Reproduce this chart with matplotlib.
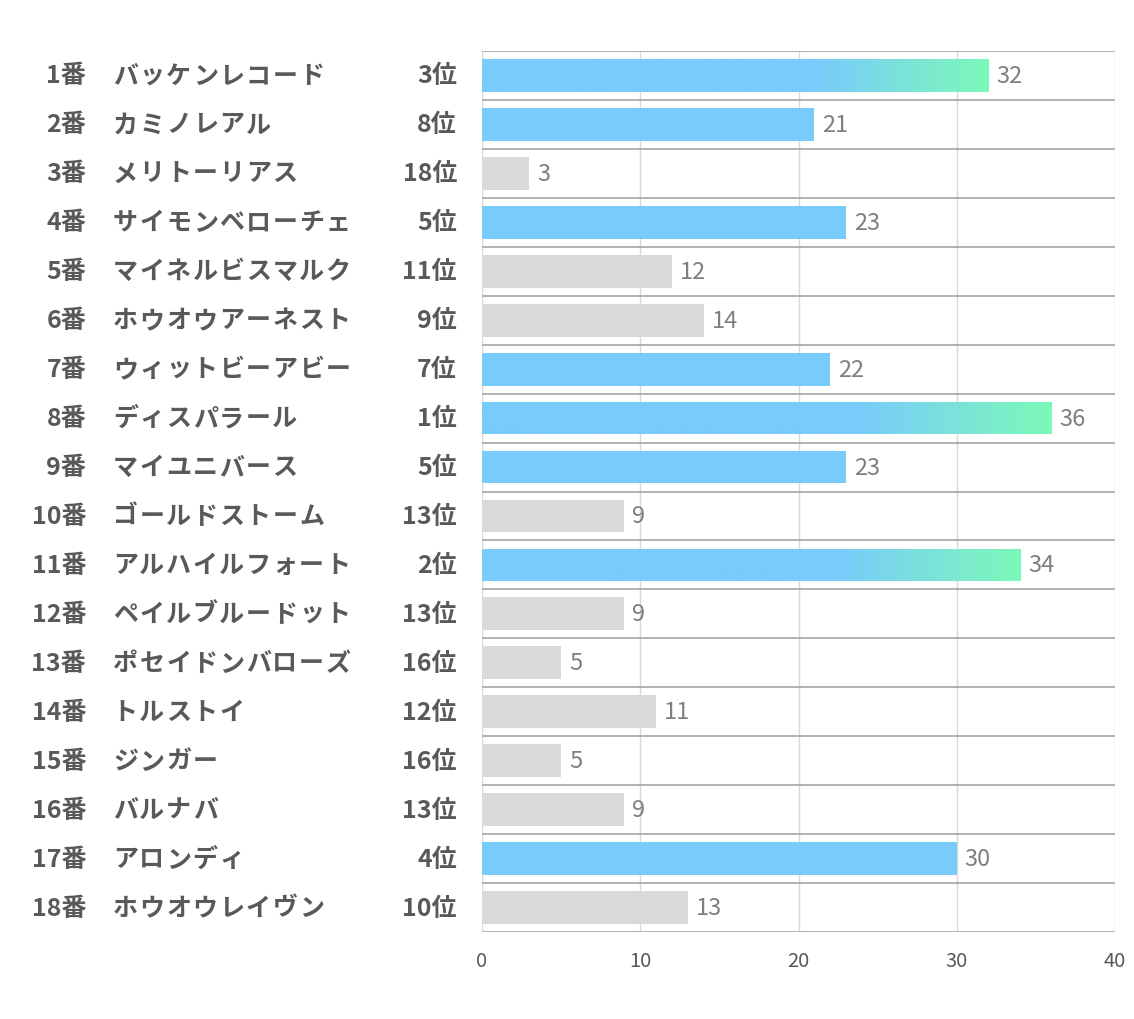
import numpy as np
import matplotlib.pyplot as plt
from matplotlib.colors import LinearSegmentedColormap

plt.rcParams['font.family'] = ['Noto Sans CJK JP', 'DejaVu Sans']

# data
numbers = ['1番', '2番', '3番', '4番', '5番', '6番', '7番', '8番', '9番',
           '10番', '11番', '12番', '13番', '14番', '15番', '16番', '17番', '18番']
names = ['バッケンレコード', 'カミノレアル', 'メリトーリアス', 'サイモンベローチェ',
         'マイネルビスマルク', 'ホウオウアーネスト', 'ウィットビーアビー', 'ディスパラール',
         'マイユニバース', 'ゴールドストーム', 'アルハイルフォート', 'ペイルブルードット',
         'ポセイドンバローズ', 'トルストイ', 'ジンガー', 'バルナバ', 'アロンディ',
         'ホウオウレイヴン']
ranks = ['3位', '8位', '18位', '5位', '11位', '9位', '7位', '1位', '5位',
         '13位', '2位', '13位', '16位', '12位', '16位', '13位', '4位', '10位']
scores = [32, 21, 3, 23, 12, 14, 22, 36, 23, 9, 34, 9, 5, 11, 5, 9, 30, 13]

BLUE = '#79CBFC'
GREEN = '#7CF9B8'
GRAY = '#D9D9D9'
TEXT = '#595959'

W, H = 1134, 1020
fig = plt.figure(figsize=(W / 100, H / 100), dpi=100)
ax = fig.add_axes([482 / W, 1 - 933 / H, (1115 - 482) / W, (933 - 52) / H])

n = len(scores)
y = np.arange(n)
bar_h = 0.67

# top 3 get a blue->green gradient, ranks 4-8 blue, the rest gray
top3 = sorted(range(n), key=lambda i: -scores[i])[:3]
cmap = LinearSegmentedColormap.from_list('g', [(0, BLUE), (0.66, BLUE), (1, GREEN)])
grad = np.linspace(0, 1, 256).reshape(1, -1)

for i in range(n):
    v = scores[i]
    if i in top3:
        rect = ax.barh(y[i], v, height=bar_h, color='none', zorder=2)[0]
        im = ax.imshow(grad, cmap=cmap, aspect='auto', zorder=2,
                       extent=[0, v, y[i] + bar_h / 2, y[i] - bar_h / 2])
        im.set_clip_path(rect)
    else:
        col = BLUE if ranks[i] in ('4位', '5位', '6位', '7位', '8位') else GRAY
        ax.barh(y[i], v, height=bar_h, color=col, zorder=2)
    ax.text(v + 0.5, y[i], str(v), va='center', ha='left', fontsize=17,
            color='#7F7F7F', zorder=3)

ax.set_xlim(0, 40)
ax.set_ylim(n - 0.5, -0.5)
ax.set_xticks([0, 10, 20, 30, 40])
ax.tick_params(axis='x', length=0, pad=13, labelsize=14.5, labelcolor=TEXT)
ax.set_yticks([])
for xv in [0, 10, 20, 30, 40]:
    ax.axvline(xv, color='#D9D9D9', lw=1, zorder=1)
for k in range(n + 1):
    ax.axhline(k - 0.5, color='#A6A6A6', lw=1.2, zorder=1)
for s in ax.spines.values():
    s.set_visible(False)

# left side labels
step = 26.6
for i in range(n):
    yy = 1 - (52 + (i + 0.5) * (933 - 52) / n) / H
    fig.text(86 / W, yy, numbers[i], ha='right', va='center', fontsize=18,
             fontweight='bold', color=TEXT)
    for k, ch in enumerate(names[i]):
        fig.text((112 + step * (k + 0.5)) / W, yy, ch, ha='center', va='center',
                 fontsize=18, fontweight='bold', color=TEXT)
    fig.text(457 / W, yy, ranks[i], ha='right', va='center', fontsize=18,
             fontweight='bold', color=TEXT)

fig.savefig('out.png', dpi=100, facecolor='white')
